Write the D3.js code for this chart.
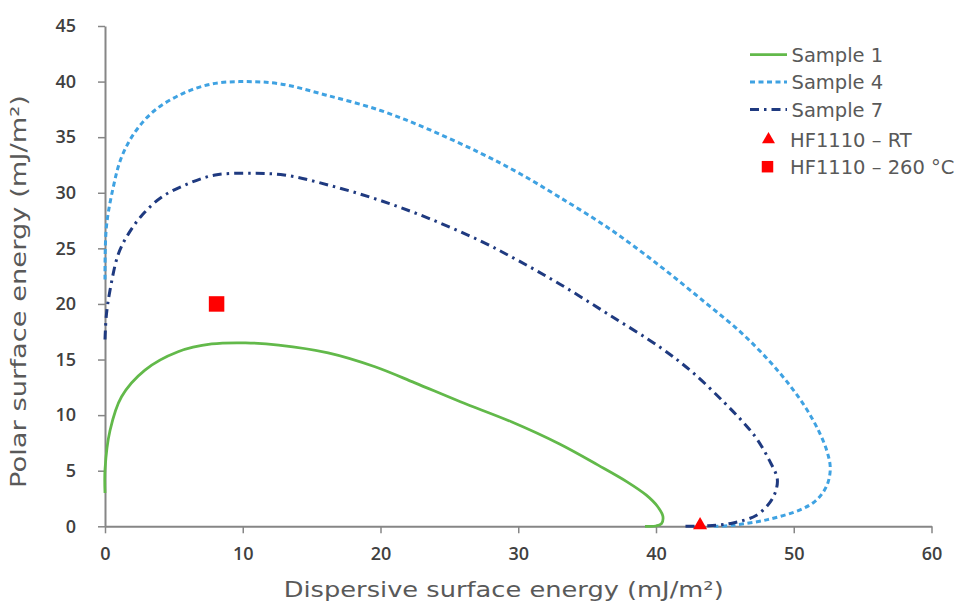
<!DOCTYPE html>
<html>
<head>
<meta charset="utf-8">
<script src="https://cdn.jsdelivr.net/npm/d3@7"></script>
<style>
  body { margin: 0; background: #ffffff; }
  svg { display: block; }
</style>
</head>
<body>
<div id="chart"></div>
<script>
// chart data
var xTicks = [0, 10, 20, 30, 40, 50, 60];
var yTicks = [0, 5, 10, 15, 20, 25, 30, 35, 40, 45];

var sample1 = [[0, 3.0], [0, 5.1], [0.36, 8.6], [1.2, 11.65], [2.9, 14.05], [5.3, 15.7],
    [7.75, 16.4], [10.2, 16.5], [12.6, 16.3], [16.2, 15.6], [19.6, 14.35], [22.5, 12.9],
    [25.8, 11.2], [29.5, 9.4], [33, 7.4], [35.8, 5.5], [37.9, 4.0], [39.3, 2.8],
    [40.1, 1.8], [40.5, 0.9], [40.4, 0.25], [40.0, 0.03], [39.2, 0]];

var sample4 = [[0, 22.2], [0.1, 26.9], [0.6, 30.5], [1.2, 33.2], [2.2, 35.5], [3.6, 37.4],
    [5.6, 38.9], [7.8, 39.8], [10.2, 40.0], [12.7, 39.8], [16, 38.8], [20, 37.4],
    [23.5, 35.7], [27.2, 33.6], [30, 31.8], [33, 29.6], [36.7, 26.7], [40.3, 23.4],
    [43.5, 20.2], [46.2, 17.4], [48.2, 14.9], [49.7, 12.7], [50.9, 10.6], [51.8, 8.6],
    [52.4, 6.8], [52.65, 5.3], [52.5, 4.0], [52.1, 3.0], [51.5, 2.2], [50.5, 1.5],
    [48.1, 0.6], [45.6, 0.1], [44.2, 0]];

var sample7 = [[0, 16.8], [0.1, 19], [0.36, 21.2], [0.97, 24.5], [1.7, 26.3], [2.7, 28.0],
    [4.1, 29.6], [6, 30.8], [8, 31.6], [10.4, 31.75], [13, 31.6], [16.5, 30.6],
    [20, 29.3], [23.5, 27.7], [27.2, 25.7], [30, 23.9], [33, 21.8], [36.5, 19.1],
    [40.3, 16.1], [42.7, 13.8], [44.9, 11.2], [46.3, 9.4], [47.3, 7.9], [48.2, 6.0],
    [48.8, 4.3], [48.7, 3.2], [48.3, 2.2], [47.3, 1.0], [45.6, 0.3], [43.8, 0.05], [42, 0]];

var pointRT = [43.2, 0.1];
var point260 = [8.1, 20];

var legendLabels = ['Sample 1', 'Sample 4', 'Sample 7', 'HF1110 \u2013 RT', 'HF1110 \u2013 260 \u00b0C'];

// styles
var green = '#62b94a';
var lightBlue = '#3fa2e2';
var navy = '#1f3a80';
var red = '#ff0000';
var axisColor = '#868686';
var textColor = '#595959';

var width = 961, height = 603;
var svg = d3.select('#chart').append('svg')
    .attr('width', width)
    .attr('height', height);

var x = d3.scaleLinear().domain([0, 60]).range([105, 931.5]);
var y = d3.scaleLinear().domain([0, 45]).range([526.3, 26]);

// axes
var xAxis = d3.axisBottom(x).tickValues(xTicks).tickSize(7).tickSizeOuter(0).tickPadding(14);
var yAxis = d3.axisLeft(y).tickValues(yTicks).tickSize(7).tickSizeOuter(0).tickPadding(22);

function styleAxis(g) {
    g.select('.domain').attr('stroke', axisColor).attr('stroke-width', 2);
    g.selectAll('.tick line').attr('stroke', axisColor).attr('stroke-width', 1.5);
    g.selectAll('.tick text')
        .attr('fill', '#404040')
        .style('font-family', '"Open Sans", sans-serif')
        .style('font-weight', 600)
        .style('font-size', '18px');
}

svg.append('g')
    .attr('transform', 'translate(0,' + y(0) + ')')
    .call(xAxis)
    .call(styleAxis);

svg.append('g')
    .attr('transform', 'translate(' + x(0) + ',0)')
    .call(yAxis)
    .call(styleAxis);

// axis titles
svg.append('text')
    .attr('x', 503.7)
    .attr('y', 597)
    .attr('text-anchor', 'middle')
    .attr('textLength', 440)
    .attr('lengthAdjust', 'spacingAndGlyphs')
    .style('font-family', '"DejaVu Sans", sans-serif')
    .style('font-size', '21px')
    .attr('fill', textColor)
    .text('Dispersive surface energy (mJ/m\u00b2)');

svg.append('text')
    .attr('transform', 'translate(26,291.5) rotate(-90)')
    .attr('text-anchor', 'middle')
    .attr('textLength', 393)
    .attr('lengthAdjust', 'spacingAndGlyphs')
    .style('font-family', '"DejaVu Sans", sans-serif')
    .style('font-size', '21px')
    .attr('fill', textColor)
    .text('Polar surface energy (mJ/m\u00b2)');

// curves
var line = d3.line()
    .x(function(d) { return x(d[0]); })
    .y(function(d) { return y(d[1]); })
    .curve(d3.curveCatmullRom.alpha(0.5));

var series = [
    { data: sample1, color: green, width: 2.75, dash: null },
    { data: sample4, color: lightBlue, width: 3, dash: '5,3.5' },
    { data: sample7, color: navy, width: 3, dash: '9,5,2.5,5' }
];

series.forEach(function(s) {
    svg.append('path')
        .attr('d', line(s.data))
        .attr('fill', 'none')
        .attr('stroke', s.color)
        .attr('stroke-width', s.width)
        .attr('stroke-dasharray', s.dash);
});

// markers
svg.append('path')
    .attr('d', d3.symbol().type(d3.symbolTriangle).size(85)())
    .attr('transform', 'translate(' + x(pointRT[0]) + ',' + y(pointRT[1]) + ')')
    .attr('fill', red);

svg.append('path')
    .attr('d', d3.symbol().type(d3.symbolSquare).size(240)())
    .attr('transform', 'translate(' + x(point260[0]) + ',' + y(point260[1]) + ')')
    .attr('fill', red);

// legend
var legend = svg.append('g');
var rowY = [54.5, 82, 109.5, 139.5, 166.7];

series.forEach(function(s, i) {
    legend.append('line')
        .attr('x1', 750).attr('x2', 787)
        .attr('y1', rowY[i]).attr('y2', rowY[i])
        .attr('stroke', s.color)
        .attr('stroke-width', s.width)
        .attr('stroke-dasharray', s.dash);
});

legend.append('path')
    .attr('d', d3.symbol().type(d3.symbolTriangle).size(73)())
    .attr('transform', 'translate(768.5,' + rowY[3] + ')')
    .attr('fill', red);

legend.append('path')
    .attr('d', d3.symbol().type(d3.symbolSquare).size(132)())
    .attr('transform', 'translate(767.5,' + rowY[4] + ')')
    .attr('fill', red);

legendLabels.forEach(function(label, i) {
    legend.append('text')
        .attr('x', i < 3 ? 791.5 : 790)
        .attr('y', rowY[i] + 7.3)
        .style('font-family', '"DejaVu Sans", sans-serif')
        .style('font-size', '19.5px')
        .attr('fill', textColor)
        .text(label);
});
</script>
</body>
</html>
